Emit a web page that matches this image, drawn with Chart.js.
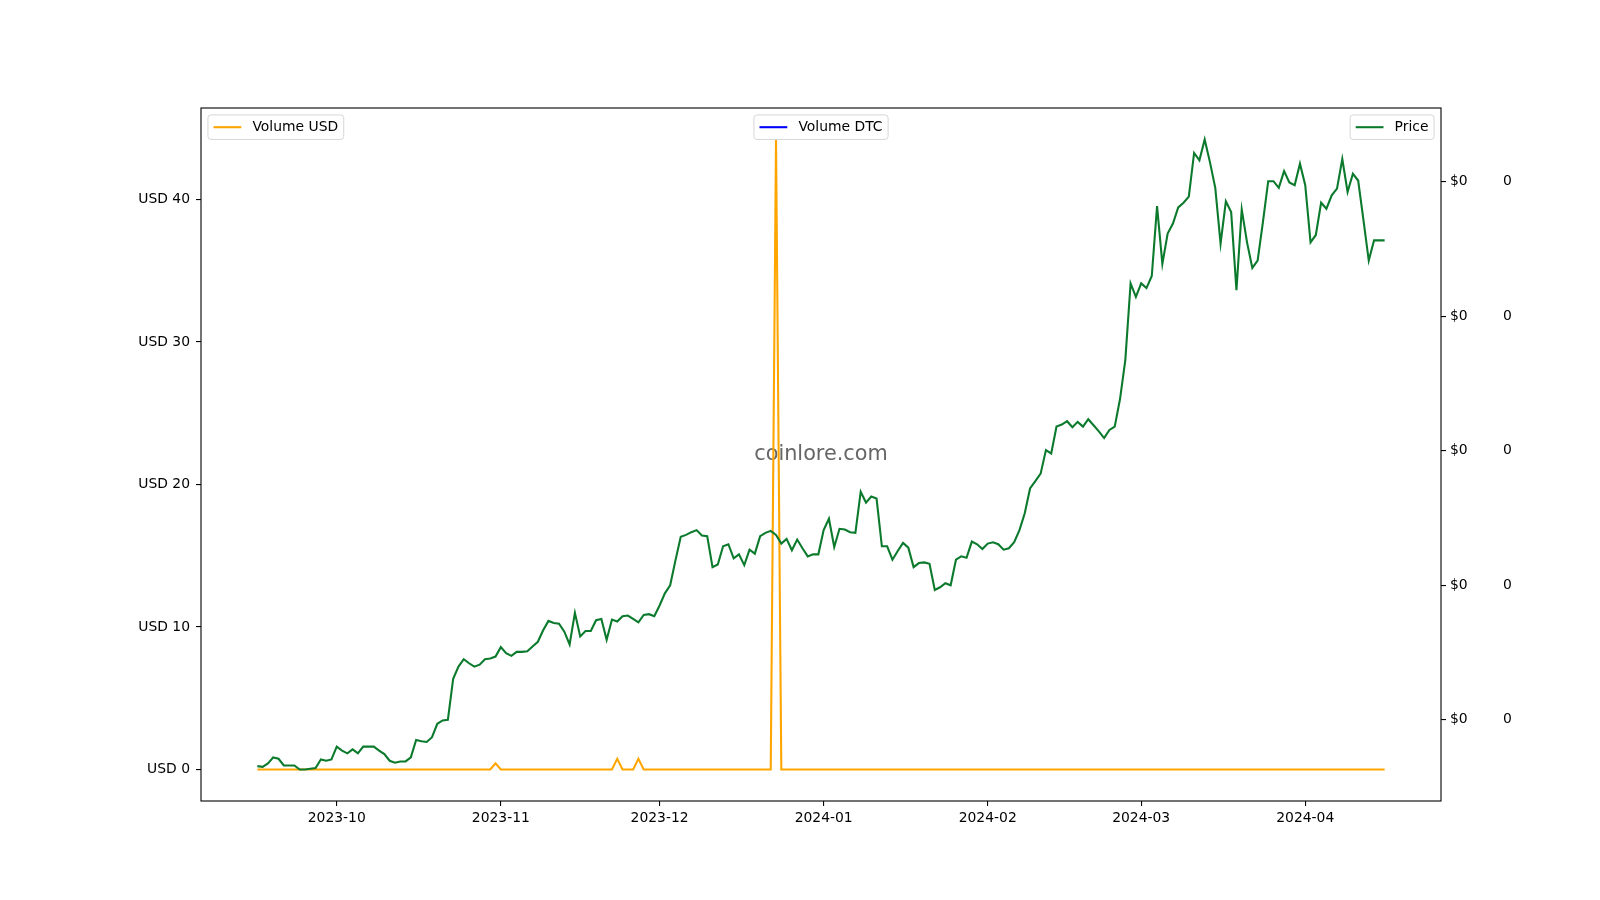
<!DOCTYPE html>
<html>
<head>
  <title>Price and volume chart</title>
  <script src="https://cdn.jsdelivr.net/npm/chart.js"></script>
  <style>
    html, body { margin: 0; padding: 0; background: #fff; }
    canvas { display: block; }
  </style>
</head>
<body>
  <canvas id="chartPrice" width="1600" height="900"></canvas>

  <script>
    // daily series starting at this date
    const startDate = '2023-09-16';
    const monthLabels = ['2023-10', '2023-11', '2023-12', '2024-01', '2024-02', '2024-03', '2024-04'];
    const usdTicks = [0, 10, 20, 30, 40];
    const priceTicks = [0.0004, 0.0006, 0.0008, 0.0010, 0.0012];

    const priceUSD = [
      0.000331, 0.000330, 0.000335, 0.000344, 0.000342, 0.000332, 0.000332, 0.000332, 0.000326, 0.000326,
      0.000327, 0.000328, 0.000341, 0.000339, 0.000341, 0.000360, 0.000354, 0.000350, 0.000356, 0.000350,
      0.000360, 0.000360, 0.000360, 0.000354, 0.000349, 0.000339, 0.000336, 0.000338, 0.000338, 0.000344,
      0.000370, 0.000368, 0.000367, 0.000374, 0.000394, 0.000399, 0.000400, 0.000461, 0.000479, 0.000490,
      0.000484, 0.000479, 0.000482, 0.000490, 0.000491, 0.000494, 0.000508, 0.000499, 0.000495, 0.000501,
      0.000501, 0.000502, 0.000509, 0.000516, 0.000533, 0.000547, 0.000544, 0.000543, 0.000531, 0.000512,
      0.000559, 0.000524, 0.000532, 0.000532, 0.000548, 0.000550, 0.000519, 0.000549, 0.000546, 0.000554,
      0.000555, 0.000550, 0.000545, 0.000556, 0.000557, 0.000554, 0.000570, 0.000588, 0.000600, 0.000637,
      0.000672, 0.000675, 0.000679, 0.000682, 0.000674, 0.000673, 0.000627, 0.000631, 0.000658, 0.000661,
      0.000640, 0.000646, 0.000630, 0.000653, 0.000647, 0.000673, 0.000678, 0.000681, 0.000675, 0.000662,
      0.000669, 0.000652, 0.000668, 0.000655, 0.000643, 0.000646, 0.000646, 0.000682, 0.000699, 0.000657,
      0.000684, 0.000683, 0.000679, 0.000678, 0.000739, 0.000723, 0.000732, 0.000729, 0.000658, 0.000658,
      0.000638, 0.000651, 0.000663, 0.000656, 0.000627, 0.000633, 0.000634, 0.000632, 0.000593, 0.000597,
      0.000603, 0.000600, 0.000638, 0.000643, 0.000641, 0.000665, 0.000661, 0.000654, 0.000662, 0.000664,
      0.000661, 0.000653, 0.000655, 0.000664, 0.000682, 0.000707, 0.000744, 0.000755, 0.000766, 0.000801,
      0.000796, 0.000836, 0.000839, 0.000844, 0.000835, 0.000843, 0.000836, 0.000847, 0.000838, 0.000829,
      0.000819, 0.000831, 0.000836, 0.000877, 0.000935, 0.001049, 0.001029, 0.001049, 0.001042, 0.001060,
      0.001164, 0.001078, 0.001123, 0.001138, 0.001162, 0.001169, 0.001178, 0.001243, 0.001232, 0.001263,
      0.001229, 0.001191, 0.001108, 0.001171, 0.001155, 0.001039, 0.001159, 0.001110, 0.001072, 0.001083,
      0.001140, 0.001201, 0.001201, 0.001191, 0.001216, 0.001199, 0.001195, 0.001227, 0.001195, 0.001110,
      0.001121, 0.001169, 0.001160, 0.001180, 0.001190, 0.001234, 0.001185, 0.001212, 0.001202, 0.001143,
      0.001083, 0.001113, 0.001113, 0.001113
    ];

    const volumeUSD = [
      0, 0, 0, 0, 0, 0, 0, 0, 0, 0, 0, 0, 0, 0, 0, 0, 0, 0, 0, 0,
      0, 0, 0, 0, 0, 0, 0, 0, 0, 0, 0, 0, 0, 0, 0, 0, 0, 0, 0, 0,
      0, 0, 0, 0, 0, 0.43, 0, 0, 0, 0, 0, 0, 0, 0, 0, 0, 0, 0, 0, 0,
      0, 0, 0, 0, 0, 0, 0, 0, 0.75, 0, 0, 0, 0.75, 0, 0, 0, 0, 0, 0, 0,
      0, 0, 0, 0, 0, 0, 0, 0, 0, 0, 0, 0, 0, 0, 0, 0, 0, 0, 44.2, 0,
      0, 0, 0, 0, 0, 0, 0, 0, 0, 0, 0, 0, 0, 0, 0, 0, 0, 0, 0, 0,
      0, 0, 0, 0, 0, 0, 0, 0, 0, 0, 0, 0, 0, 0, 0, 0, 0, 0, 0, 0,
      0, 0, 0, 0, 0, 0, 0, 0, 0, 0, 0, 0, 0, 0, 0, 0, 0, 0, 0, 0,
      0, 0, 0, 0, 0, 0, 0, 0, 0, 0, 0, 0, 0, 0, 0, 0, 0, 0, 0, 0,
      0, 0, 0, 0, 0, 0, 0, 0, 0, 0, 0, 0, 0, 0, 0, 0, 0, 0, 0, 0,
      0, 0, 0, 0, 0, 0, 0, 0, 0, 0, 0, 0, 0, 0
    ];

    // no DTC volume values in the source
    const volumeDTC = [];

    const DAY = 86400000;
    const t0 = Date.parse(startDate + 'T00:00:00Z');
    const monthDays = monthLabels.map(m => (Date.parse(m + '-01T00:00:00Z') - t0) / DAY);

    const toPoints = arr => arr.map((v, i) => ({ x: i, y: v }));

    // matplotlib style 5% margins
    const span = (lo, hi) => [lo - (hi - lo) * 0.05, hi + (hi - lo) * 0.05];
    const xr = span(0, priceUSD.length - 1);
    const vr = span(Math.min(...volumeUSD), Math.max(...volumeUSD));
    const pr = span(Math.min(...priceUSD), Math.max(...priceUSD));

    const FS = 13.9;
    Chart.defaults.font.family = '"DejaVu Sans", sans-serif';
    Chart.defaults.font.size = FS;
    Chart.defaults.color = '#000';

    const tickGrid = { display: true, drawOnChartArea: false, drawTicks: true, tickLength: 5, color: '#000', lineWidth: 1.1 };

    const framePlugin = {
      id: 'frame',
      beforeDatasetsDraw(chart) {
        const { ctx, chartArea: a } = chart;
        ctx.save();
        ctx.font = '20.8px "DejaVu Sans", sans-serif';
        ctx.fillStyle = '#666666';
        ctx.textAlign = 'center';
        ctx.textBaseline = 'middle';
        ctx.fillText('coinlore.com', (a.left + a.right) / 2, (a.top + a.bottom) / 2);
        ctx.restore();
      },
      afterDatasetsDraw(chart) {
        const { ctx, chartArea: a } = chart;
        ctx.save();
        ctx.strokeStyle = '#000';
        ctx.lineWidth = 1.1;
        ctx.strokeRect(a.left, a.top, a.right - a.left, a.bottom - a.top);
        ctx.restore();
      },
      afterDraw(chart) {
        const { ctx, chartArea: a } = chart;
        const pad = 0.4 * FS, hl = 2 * FS, hp = 0.8 * FS, inset = 0.5 * FS, h = 24.5;
        ctx.save();
        ctx.font = FS + 'px "DejaVu Sans", sans-serif';
        chart.data.datasets.forEach(ds => {
          const tw = ctx.measureText(ds.label).width;
          const w = pad + hl + hp + tw + pad;
          let x = a.right - inset - w;
          if (ds.legendLoc === 'left') x = a.left + inset;
          if (ds.legendLoc === 'center') x = (a.left + a.right) / 2 - w / 2;
          const y = a.top + inset;
          ctx.beginPath();
          ctx.roundRect(x, y, w, h, 3);
          ctx.fillStyle = 'rgba(255,255,255,0.8)';
          ctx.fill();
          ctx.strokeStyle = '#d6d6d6';
          ctx.lineWidth = 1;
          ctx.stroke();
          ctx.beginPath();
          ctx.moveTo(x + pad, y + h / 2);
          ctx.lineTo(x + pad + hl, y + h / 2);
          ctx.strokeStyle = ds.borderColor;
          ctx.lineWidth = 2.08;
          ctx.stroke();
          ctx.fillStyle = '#000';
          ctx.textBaseline = 'middle';
          ctx.fillText(ds.label, x + pad + hl + hp, y + h / 2 + 0.5);
        });
        ctx.restore();
      }
    };

    const ctx = document.getElementById('chartPrice').getContext('2d');
    new Chart(ctx, {
      type: 'line',
      data: {
        datasets: [
          {
            label: 'Volume USD', legendLoc: 'left', data: toPoints(volumeUSD), yAxisID: 'y',
            borderColor: '#ffa500', borderWidth: 2.08, pointRadius: 0, tension: 0, order: 2
          },
          {
            label: 'Volume DTC', legendLoc: 'center', data: toPoints(volumeDTC), yAxisID: 'y3',
            borderColor: '#0000ff', borderWidth: 2.08, pointRadius: 0, tension: 0, order: 1
          },
          {
            label: 'Price', legendLoc: 'right', data: toPoints(priceUSD), yAxisID: 'y2',
            borderColor: '#0b7a2c', borderWidth: 2.08, pointRadius: 0, tension: 0, order: 0
          }
        ]
      },
      options: {
        responsive: false,
        animation: false,
        devicePixelRatio: 1,
        layout: { padding: { top: 108, left: 0, right: 0, bottom: 0 } },
        plugins: { legend: { display: false }, tooltip: { enabled: false }, title: { display: false } },
        scales: {
          x: {
            type: 'linear', min: xr[0], max: xr[1],
            grid: tickGrid, border: { display: false },
            afterBuildTicks: s => { s.ticks = monthDays.map(v => ({ value: v })); },
            afterFit: s => { s.height = 99; },
            ticks: {
              autoSkip: false, maxRotation: 0, padding: 4,
              callback: v => monthLabels[monthDays.indexOf(v)]
            }
          },
          y: {
            type: 'linear', position: 'left', min: vr[0], max: vr[1],
            grid: tickGrid, border: { display: false },
            afterBuildTicks: s => { s.ticks = usdTicks.map(v => ({ value: v })); },
            afterFit: s => { s.width = 201; },
            ticks: { padding: 6, callback: v => 'USD ' + v }
          },
          y2: {
            type: 'linear', position: 'right', weight: 0, min: pr[0], max: pr[1],
            grid: tickGrid, border: { display: false },
            afterBuildTicks: s => { s.ticks = priceTicks.map(v => ({ value: v })); },
            afterFit: s => { s.width = 60; },
            ticks: { padding: 4, callback: v => '$' + Math.round(v) }
          },
          y3: {
            type: 'linear', position: 'right', weight: 1, min: pr[0], max: pr[1],
            grid: { display: false, drawTicks: false, tickLength: 0 }, border: { display: false },
            afterBuildTicks: s => { s.ticks = priceTicks.map(v => ({ value: v })); },
            afterFit: s => { s.width = 99; },
            ticks: { padding: 2, callback: v => String(Math.round(v)) }
          }
        }
      },
      plugins: [framePlugin]
    });
  </script>
</body>
</html>
